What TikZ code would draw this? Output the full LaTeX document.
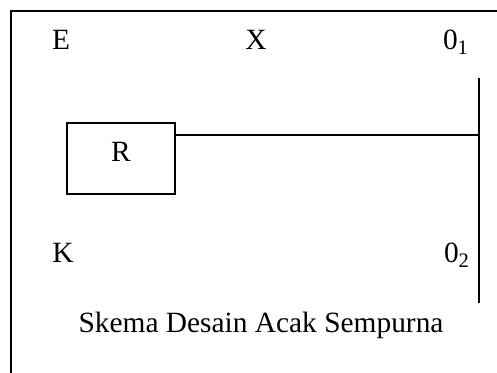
\documentclass[tikz,border=0pt]{standalone}
\usepackage{fontspec}
\setmainfont{Liberation Serif}
\usetikzlibrary{positioning,calc}

\begin{document}
\begin{tikzpicture}[x=0.5pt, y=-0.5pt,
  lbl/.style={anchor=base, inner sep=0pt, font=\fontsize{14.7}{17}\selectfont},
  box/.style={draw, line width=0.85pt, inner sep=0pt, minimum width=54pt,
              text height=19.5pt, text depth=16pt, font=\fontsize{14.7}{17}\selectfont},
  line/.style={line width=0.85pt}
]
  \useasboundingbox (0,0) rectangle (497,373);

  % frame
  \draw[line] (11,373) -- (11,11) -- (497,11);

  \node[lbl] (e)  at (61,50)  {E};
  \node[lbl] (x)  at (256,50) {X};
  \node[lbl] (o1) at (456,50) {0\textsubscript{1}};
  \node[lbl] (k)  at (63,263) {K};
  \node[lbl] (o2) at (457,263) {0\textsubscript{2}};

  \node[box] (r) at (121,158.5) {R};

  \coordinate (vtop) at (479,78);
  \coordinate (vbot) at (479,303);
  \coordinate (join) at (479,135);

  \draw[line] (vtop) -- (vbot);
  \draw[line] (r.east |- join) -- (join);

  \node[lbl] (cap) at (261,332) {Skema Desain Acak Sempurna};
\end{tikzpicture}
\end{document}
